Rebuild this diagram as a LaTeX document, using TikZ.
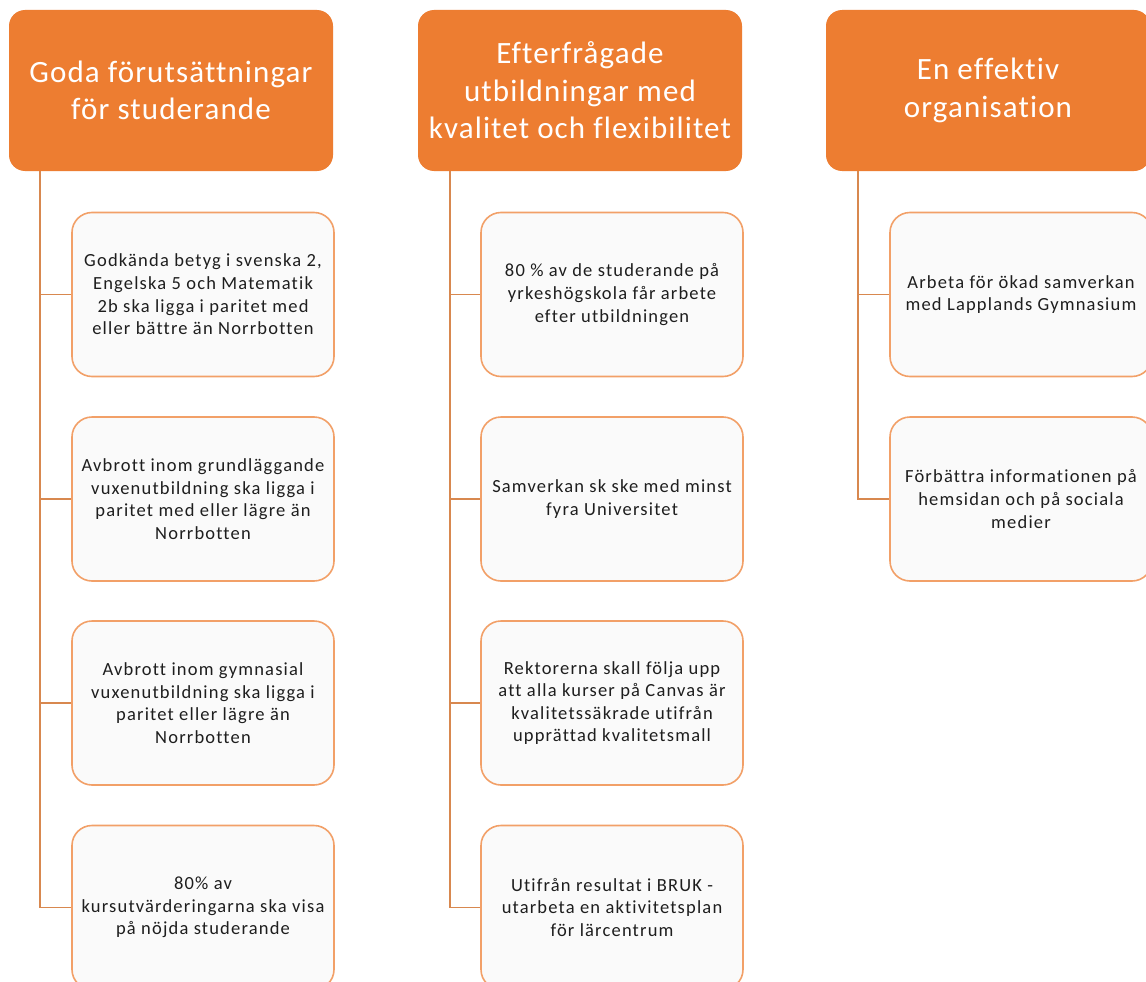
\documentclass[tikz,border=0pt]{standalone}
\usepackage{fontspec}
\setmainfont{Carlito}
\newfontfamily\headfont[LetterSpace=3.6,Ligatures=NoCommon]{Carlito}
\newfontfamily\childfont[LetterSpace=6.4,Ligatures=NoCommon]{Carlito}
\definecolor{headfill}{HTML}{ED7D31}
\definecolor{childborder}{HTML}{F2A068}
\definecolor{childfill}{HTML}{FAFAFA}
\definecolor{linecol}{HTML}{D8884F}
\definecolor{txt}{HTML}{1E1E1E}
\begin{document}
\begin{tikzpicture}[x=1pt,y=-1pt,
  header/.style={draw=none,fill=headfill,rounded corners=16pt,minimum width=324pt,minimum height=161pt,text=white,align=center,inner sep=0pt,font=\headfont\fontsize{31}{37.5}\selectfont},
  child/.style={draw=childborder,line width=1.6pt,fill=childfill,rounded corners=20pt,minimum width=262pt,minimum height=164pt,text=txt,align=center,inner sep=0pt,font=\childfont\fontsize{18.5}{22.6}\selectfont},
  conn/.style={draw=linecol,line width=1.8pt}]
\useasboundingbox (0,0) rectangle (1146,982);
\clip (0,0) rectangle (1146,982);
\fill[white] (0,0) rectangle (1146,982);

% headers
\node[header] (h1) at (171,90.5) {Goda förutsättningar\\för studerande};
\node[header] (h2) at (580,90.5) {Efterfrågade\\utbildningar med\\kvalitet och flexibilitet};
\node[header] (h3) at (988,90.5) {En effektiv\\organisation};

% column 1
\node[child] (a1) at (203,294.5) {Godkända betyg i svenska 2,\\Engelska 5 och Matematik\\2b ska ligga i paritet med\\eller bättre än Norrbotten};
\node[child] (a2) at (203,499) {Avbrott inom grundläggande\\vuxenutbildning ska ligga i\\paritet med eller lägre än\\Norrbotten};
\node[child] (a3) at (203,703) {Avbrott inom gymnasial\\vuxenutbildning ska ligga i\\paritet eller lägre än\\Norrbotten};
\node[child] (a4) at (203,907.5) {80\% av\\kursutvärderingarna ska visa\\på nöjda studerande};

% column 2
\node[child] (b1) at (612,294.5) {80 \% av de studerande på\\yrkeshögskola får arbete\\efter utbildningen};
\node[child] (b2) at (612,499) {Samverkan sk ske med minst\\fyra Universitet};
\node[child] (b3) at (612,703) {Rektorerna skall följa upp\\att alla kurser på Canvas är\\kvalitetssäkrade utifrån\\upprättad kvalitetsmall};
\node[child] (b4) at (612,907.5) {Utifrån resultat i BRUK -\\utarbeta en aktivitetsplan\\för lärcentrum};

% column 3
\node[child] (c1) at (1021,294.5) {Arbeta för ökad samverkan\\med Lapplands Gymnasium};
\node[child] (c2) at (1021,499) {Förbättra informationen på\\hemsidan och på sociala\\medier};

% connectors
\coordinate (ta) at ([xshift=31pt]h1.south west);
\coordinate (tb) at ([xshift=32pt]h2.south west);
\coordinate (tc) at ([xshift=32pt]h3.south west);
\draw[conn] (ta) |- (a4.west);
\draw[conn] (ta |- a1.west) -- (a1.west);
\draw[conn] (ta |- a2.west) -- (a2.west);
\draw[conn] (ta |- a3.west) -- (a3.west);
\draw[conn] (tb) |- (b4.west);
\draw[conn] (tb |- b1.west) -- (b1.west);
\draw[conn] (tb |- b2.west) -- (b2.west);
\draw[conn] (tb |- b3.west) -- (b3.west);
\draw[conn] (tc) |- (c2.west);
\draw[conn] (tc |- c1.west) -- (c1.west);
\end{tikzpicture}
\end{document}
